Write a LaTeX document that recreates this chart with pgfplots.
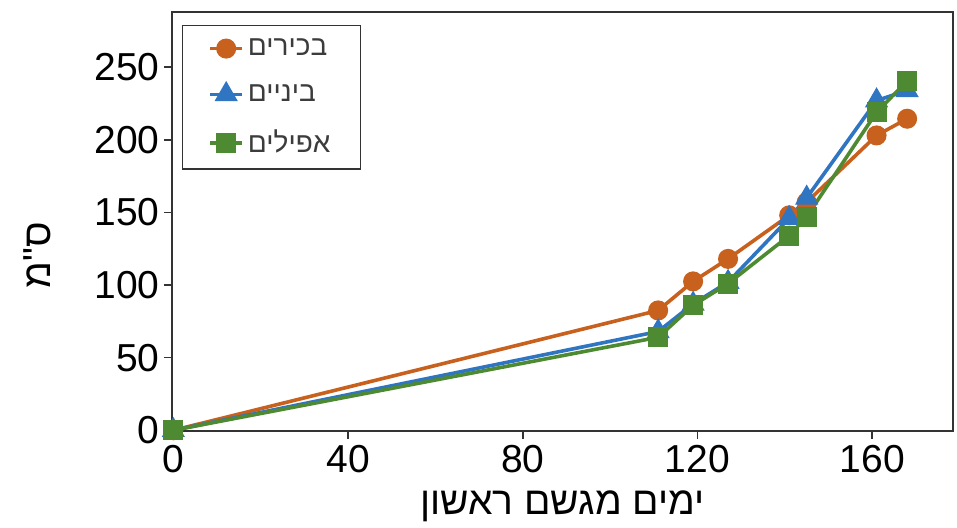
\documentclass[border=0pt]{standalone}
\usepackage{fontspec}
\setmainfont{Liberation Sans}
\newfontfamily\hebfont[Script=Hebrew]{Liberation Sans}
\TeXXeTstate=1
\usepackage{pgfplots}
\pgfplotsset{compat=1.18}
\definecolor{cOr}{HTML}{C8601E}
\definecolor{cBl}{HTML}{2F75C2}
\definecolor{cGr}{HTML}{4E8A32}
\definecolor{cAx}{HTML}{333333}
\definecolor{cLt}{HTML}{3C3C3C}
\begin{document}
\begin{tikzpicture}
\begin{axis}[
  name=ax,
  scale only axis,
  width=390.5pt, height=209.5pt,
  xmin=-0.3, xmax=178.5, ymin=-0.5, ymax=288,
  xtick={0,40,80,120,160}, ytick={0,50,100,150,200,250},
  tick align=outside, xtick pos=bottom, ytick pos=left,
  major tick length=4pt,
  axis line style={cAx, line width=0.8pt},
  every tick/.style={cAx, line width=0.8pt},
  /pgf/number format/assume math mode=true,
  tick label style={font=\fontsize{19.5}{23}\selectfont, text=black},
  xticklabel style={yshift=1pt},
  yticklabel style={xshift=2pt},
  xlabel={\hebfont\beginR ימים מגשם ראשון\endR},
  ylabel={\hebfont\beginR ס"מ\endR},
  label style={font=\fontsize{19.5}{23}\selectfont},
  xlabel style={at={(axis description cs:0.5,-0.18)}, anchor=center},
  ylabel style={at={(axis description cs:-0.172,0.42)}, anchor=center, rotate=0},
  legend style={at={(axis description cs:0.0124,0.969)}, anchor=north west,
    draw=cAx, line width=0.7pt, inner xsep=13pt, inner ysep=4.5pt,
    font=\fontsize{14}{17}\selectfont, text=cLt, row sep=9pt},
  legend cell align=left,
  legend image code/.code={
    \draw[line width=1.8pt, mark repeat=2,mark phase=2,#1] plot coordinates {(0pt,0pt) (8pt,0pt) (16pt,0pt)};},
  line width=1.8pt,
  clip=false,
]
\addplot[cOr, mark=*, mark size=4.1pt, mark options={solid, fill=cOr}] coordinates {
 (0,0) (111,82.5) (119,102.5) (127,118) (141,148) (145,157) (161,203) (168,214.5)};
\addlegendentry{\hebfont\beginR בכירים\endR}
\addplot[cBl, mark=triangle*, mark size=4.9pt, mark options={solid, fill=cBl}] coordinates {
 (0,0) (111,68) (119,87) (127,102) (141,146) (145,160) (161,227) (168,234)};
\addlegendentry{\hebfont\beginR ביניים\endR}
\addplot[cGr, mark=square*, mark size=4.1pt, mark options={solid, fill=cGr}] coordinates {
 (0,0) (111,64) (119,86) (127,101) (141,134) (145,147) (161,219) (168,240.5)};
\addlegendentry{\hebfont\beginR אפילים\endR}
\end{axis}
\pgfresetboundingbox
\path ([shift={(-86pt,-48.5pt)}]ax.south west) rectangle ([shift={(2pt,6pt)}]ax.north east);
\end{tikzpicture}
\end{document}
